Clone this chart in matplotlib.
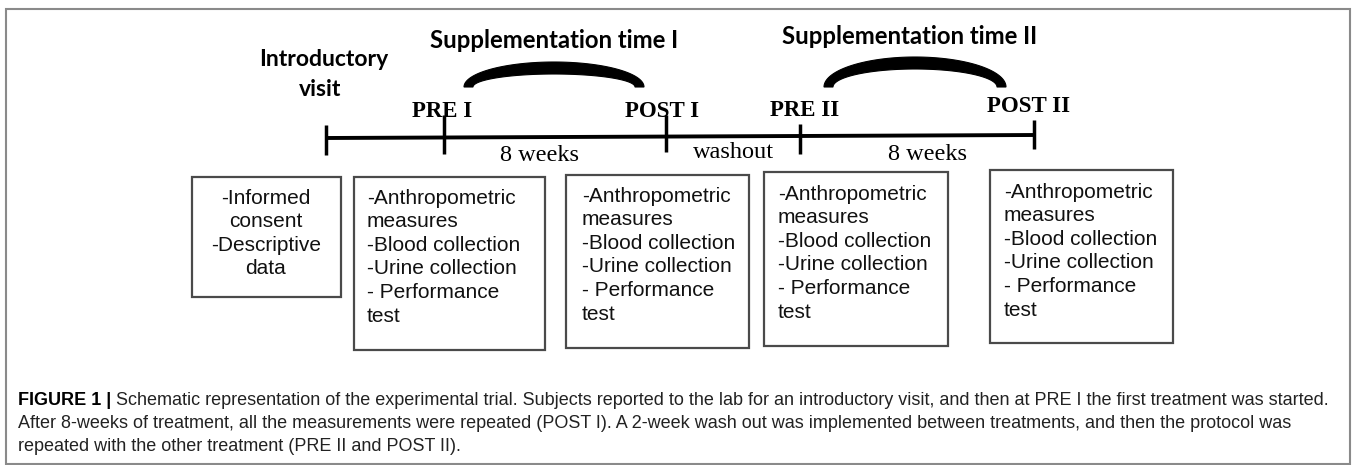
import matplotlib.pyplot as plt
from matplotlib.patches import Rectangle, Polygon
import numpy as np

W, H = 1357, 465

# timeline of the schematic (pixel layout of the original figure)
tick_x = [326, 444, 666, 800, 1034]
tick_top = [125, 115, 115, 124, 120]
tick_bottom = [155, 154, 152, 154, 149]
line_y = [138, 135]

point_labels = ['PRE I', 'POST I', 'PRE II', 'POST II']
point_label_x = [442, 662, 805, 1029]
point_label_y = [111, 111, 110, 106]

interval_labels = ['8 weeks', 'washout', '8 weeks']
interval_x = [540, 734, 928]
interval_y = [155, 152, 154]

phase_titles = ['Supplementation time I', 'Supplementation time II']
phase_title_x = [554, 910]
phase_title_y = [41, 36]
arc_start = [468, 828]
arc_end = [640, 1002]
arc_top = [62, 57]
arc_base = [87, 87]

intro_lines = ['Introductory', 'visit']
intro_x = [324, 320]
intro_y = [60, 90]

# boxes under the timeline
measures = ['-Anthropometric', 'measures', '-Blood collection',
            '-Urine collection', '- Performance', 'test']
box_lines = [['-Informed', 'consent', '-Descriptive', 'data'],
             measures, measures, measures, measures]
box_align = ['center', 'left', 'left', 'left', 'left']
box_left = [192, 354, 566, 764, 990]
box_right = [341, 545, 749, 948, 1173]
box_top = [177, 177, 175, 172, 170]
box_bottom = [297, 350, 348, 346, 343]
box_text_x = [266, 367, 582, 778, 1004]
box_text_y = [198, 198, 196, 194, 192]
line_pitch = 23.6

caption_head = 'FIGURE 1 |'
caption_lines = [
    ' Schematic representation of the experimental trial. Subjects reported to the lab for an introductory visit, and then at PRE I the first treatment was started.',
    'After 8-weeks of treatment, all the measurements were repeated (POST I). A 2-week wash out was implemented between treatments, and then the protocol was',
    'repeated with the other treatment (PRE II and POST II).',
]
caption_x = 18
caption_y = [400, 423, 446]

fig = plt.figure(figsize=(13.57, 4.65), dpi=100)
ax = fig.add_axes([0, 0, 1, 1])
ax.set_xlim(0, W)
ax.set_ylim(H, 0)
ax.axis('off')

# outer frame
ax.add_patch(Rectangle((6, 9), 1344, 455, fill=False, edgecolor='#8a8a8a', lw=1.5))

head_font = 'Lato'
serif = 'Liberation Serif'
sans = 'Liberation Sans'
cap_font = 'Liberation Sans'

# timeline
ax.plot([tick_x[0], tick_x[-1]], line_y, color='black', lw=2.8, solid_capstyle='butt')
for x, y0, y1 in zip(tick_x, tick_top, tick_bottom):
    ax.plot([x, x], [y0, y1], color='black', lw=2.5, solid_capstyle='butt')

for lab, x, y in zip(point_labels, point_label_x, point_label_y):
    ax.text(x, y, lab, family=serif, weight='bold', fontsize=16.5,
            ha='center', va='center')
for lab, x, y in zip(interval_labels, interval_x, interval_y):
    ax.text(x, y, lab, family=serif, fontsize=17.5, ha='center', va='center')

# supplementation arcs and titles
for title, tx, ty, x0, x1, top, base in zip(phase_titles, phase_title_x, phase_title_y,
                                            arc_start, arc_end, arc_top, arc_base):
    ax.text(tx, ty, title, family=head_font, weight='bold', fontsize=17.2,
            ha='center', va='center')
    cx = (x0 + x1) / 2
    a = (x1 - x0) / 2
    b = base - top
    t = np.linspace(0, np.pi, 80)
    outer = np.column_stack([cx - (a + 4) * np.cos(t), base - b * np.sin(t)])
    inner = np.column_stack([cx - (a - 5) * np.cos(t), base - (b - 12) * np.sin(t)])
    ax.add_patch(Polygon(np.vstack([outer, inner[::-1]]), closed=True,
                         facecolor='black', edgecolor='black', lw=0.8))

for lab, x, y in zip(intro_lines, intro_x, intro_y):
    ax.text(x, y, lab, family=head_font, weight='bold', fontsize=16.5,
            ha='center', va='center')

# boxes
for lines, al, l, r, t, b, tx, ty in zip(box_lines, box_align, box_left, box_right,
                                         box_top, box_bottom, box_text_x, box_text_y):
    ax.add_patch(Rectangle((l, t), r - l, b - t, fill=False, edgecolor='#4a4a4a', lw=1.6))
    for i, s in enumerate(lines):
        ax.text(tx, ty + i * line_pitch, s, family=sans, fontsize=15,
                ha=al, va='center', color='#111111')

# caption
head = ax.text(caption_x, caption_y[0], caption_head, family=cap_font, weight='bold',
               fontsize=13, ha='left', va='center')
fig.canvas.draw()
bb = head.get_window_extent(fig.canvas.get_renderer())
x_after = ax.transData.inverted().transform((bb.x1, 0))[0]
ax.text(x_after, caption_y[0], caption_lines[0], family=cap_font, fontsize=13,
        ha='left', va='center', color='#222222')
for s, y in zip(caption_lines[1:], caption_y[1:]):
    ax.text(caption_x, y, s, family=cap_font, fontsize=13, ha='left', va='center',
            color='#222222')

fig.savefig('out.png', dpi=100)
